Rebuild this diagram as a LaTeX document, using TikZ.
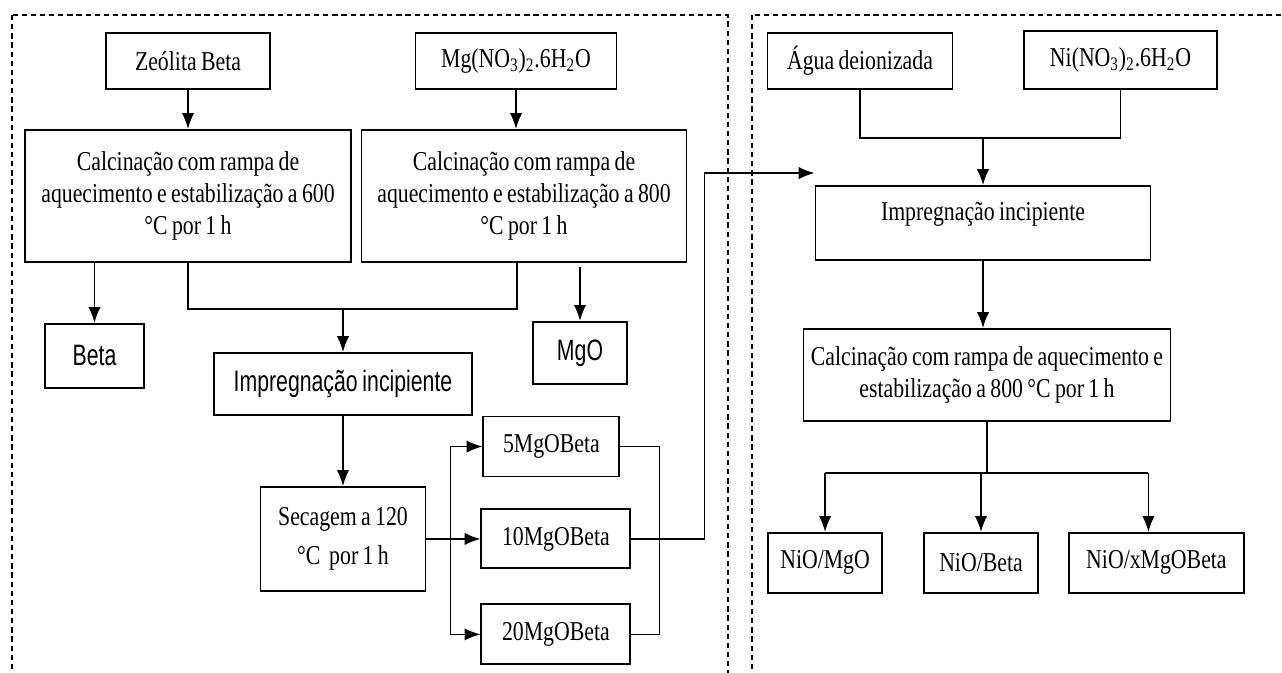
\documentclass[tikz,border=0pt]{standalone}
\usepackage{fontspec}
\setmainfont{Liberation Serif}[FakeStretch=0.8, WordSpace=0.8]
\newfontfamily\sansnarrow{Liberation Sans}[FakeStretch=0.72, WordSpace=0.8]
\usetikzlibrary{positioning}
\usetikzlibrary{arrows.meta}

\begin{document}
\begin{tikzpicture}[
	box/.style={draw, line width=1.1pt, inner xsep=0pt, inner ysep=2pt, align=flush center,
		font=\fontsize{15.5pt}{18pt}\selectfont},
	sansbox/.style={box, font=\sansnarrow\fontsize{16.8pt}{19pt}\selectfont},
	arr/.style={-{Latex[length=9pt,width=7pt]}, line width=0.9pt},
	link/.style={line width=0.9pt},
	frame/.style={dash pattern=on 3pt off 2.2pt, line width=0.6pt},
]

\useasboundingbox (0,0) rectangle (25.64,-13.44);
\clip (0,0) rectangle (25.64,-13.44);

% Frames
\draw[frame] (0.24,-0.3) rectangle (14.56,-14);
\draw[frame] (15.04,-0.3) rectangle (26,-14);

% Zeolita Beta
\node [box,
	minimum width=3.28cm,
	minimum height=1.12cm,
	text width=3.28cm,
] (zeolita) at (3.76,-1.22) {
Zeólita Beta
};

% Calcination of the zeolite
\node [box,
	minimum width=6.52cm,
	minimum height=2.64cm,
	text width=6.52cm,
	below = 0.78cm of zeolita
] (calc_beta) {
Calcinação com rampa de\\
aquecimento e estabilização a 600\\
°C por 1 h
};

% Magnesium nitrate
\node [box,
	minimum width=4.02cm,
	minimum height=1.12cm,
	text width=4.02cm,
] (mg_nitrate) at (10.32,-1.22) {
Mg(NO\textsubscript{3})\textsubscript{2}.6H\textsubscript{2}O
};

% Calcination of the nitrate
\node [box,
	minimum width=6.5cm,
	minimum height=2.64cm,
	text width=6.5cm,
	below = 0.78cm of mg_nitrate,
	xshift=0.16cm
] (calc_mgo) {
Calcinação com rampa de\\
aquecimento e estabilização a 800\\
°C por 1 h
};

% Products of the calcinations
\node [sansbox,
	minimum width=1.98cm,
	minimum height=1.28cm,
	text width=1.98cm,
	below right = 1.2cm and 0.4cm of calc_beta.south west
] (beta) {
Beta
};
\node [sansbox,
	minimum width=1.88cm,
	minimum height=1.24cm,
	text width=1.88cm,
	below = 1.16cm of calc_mgo,
	xshift=1.12cm
] (mgo) {
MgO
};

% Impregnation (support)
\node [sansbox,
	minimum width=5.16cm,
	minimum height=1.24cm,
	text width=5.16cm,
] (impreg_left) at (6.86,-7.68) {
Impregnação incipiente
};

% Drying
\node [box,
	minimum width=3.3cm,
	minimum height=2.08cm,
	text width=3.3cm,
	below = 1.4cm of impreg_left
] (secagem) {
Secagem a 120\\[4pt]
°C~~por 1 h
};

% xMgOBeta supports
\node [box,
	minimum width=2.98cm,
	minimum height=1.18cm,
	text width=2.98cm,
	right = 1.08cm of secagem
] (beta10) {
10MgOBeta
};
\node [box,
	minimum width=2.72cm,
	minimum height=1.2cm,
	text width=2.72cm,
	above right = 0.62cm and 0.04cm of beta10.north west
] (beta5) {
5MgOBeta
};
\node [box,
	minimum width=2.98cm,
	minimum height=1.2cm,
	text width=2.98cm,
	below = 0.68cm of beta10
] (beta20) {
20MgOBeta
};

% Deionized water
\node [box,
	minimum width=3.7cm,
	minimum height=1.12cm,
	text width=3.7cm,
] (agua) at (17.2,-1.22) {
Água deionizada
};

% Nickel nitrate
\node [box,
	minimum width=3.86cm,
	minimum height=1.16cm,
	text width=3.86cm,
] (ni_nitrate) at (22.41,-1.2) {
Ni(NO\textsubscript{3})\textsubscript{2}.6H\textsubscript{2}O
};

% Impregnation (nickel)
\node [box,
	minimum width=6.7cm,
	minimum height=1.48cm,
	text width=6.7cm,
	text depth=0.45cm,
] (impreg_right) at (19.66,-4.46) {
Impregnação incipiente
};

% Final calcination
\node [box,
	minimum width=7.34cm,
	minimum height=1.84cm,
	text width=7.34cm,
	below = 1.34cm of impreg_right,
	xshift=0.08cm
] (calc_ni) {
Calcinação com rampa de aquecimento e\\
estabilização a 800 °C por 1 h
};

% Catalysts
\node [box,
	minimum width=2.28cm,
	minimum height=1.2cm,
	text width=2.28cm,
	below = 2.2cm of calc_ni,
	xshift=-0.12cm
] (nio_beta) {
NiO/Beta
};
\node [box,
	minimum width=2.28cm,
	minimum height=1.2cm,
	text width=2.28cm,
	left = 0.8cm of nio_beta
] (nio_mgo) {
NiO/MgO
};
\node [box,
	minimum width=3.5cm,
	minimum height=1.2cm,
	text width=3.5cm,
	right = 0.58cm of nio_beta
] (nio_x) {
NiO/xMgOBeta
};

% Arrows, left part
\draw[arr] (zeolita.south) -- (calc_beta.north);
\draw[arr] (mg_nitrate.south) -- (mg_nitrate.south |- calc_mgo.north);
\draw[arr] (calc_beta.south -| beta.north) -- (beta.north);
\draw[arr] ([yshift=-0.08cm] calc_mgo.south -| mgo.north) -- (mgo.north);

\coordinate (merge) at ([yshift=-0.92cm] calc_beta.south);
\draw[link] (calc_beta.south) -- (merge) -| ([xshift=-0.14cm] calc_mgo.south);
\draw[arr] (merge -| impreg_left.north) -- (impreg_left.north);
\draw[arr] (impreg_left.south) -- (impreg_left.south |- secagem.north);

\coordinate (split) at ([xshift=0.48cm] secagem.east);
\draw[link] (secagem.east) -- (split);
\draw[arr] (split) |- (beta5.west);
\draw[arr] (split) -- (beta10.west);
\draw[arr] (split) |- (beta20.west);

\draw[link] (beta5.east) -- ++(0.78,0) |- (beta20.east);

% Arrow to the right part
\coordinate (entry) at ([yshift=0.24cm] impreg_right.north west);
\draw[arr] (beta10.east) -| ([xshift=-2.2cm] entry) -- (entry);

% Arrows, right part
\coordinate (join) at ([yshift=-0.96cm] agua.south);
\draw[link] (agua.south) -- (join) -| (ni_nitrate.south);
\draw[arr] (join -| impreg_right.north) -- (impreg_right.north);
\draw[arr] (impreg_right.south) -- (impreg_right.south |- calc_ni.north);

\coordinate (fork) at ([yshift=-1.02cm] calc_ni.south);
\coordinate (nio_x_in) at ([xshift=-0.16cm] nio_x.north);
\draw[link] (calc_ni.south) -- (fork);
\draw[link] (fork -| nio_mgo.north) -- (fork -| nio_x_in);
\draw[arr] (fork -| nio_mgo.north) -- (nio_mgo.north);
\draw[arr] (fork -| nio_beta.north) -- (nio_beta.north);
\draw[arr] (fork -| nio_x_in) -- (nio_x_in);

\end{tikzpicture}
\end{document}
